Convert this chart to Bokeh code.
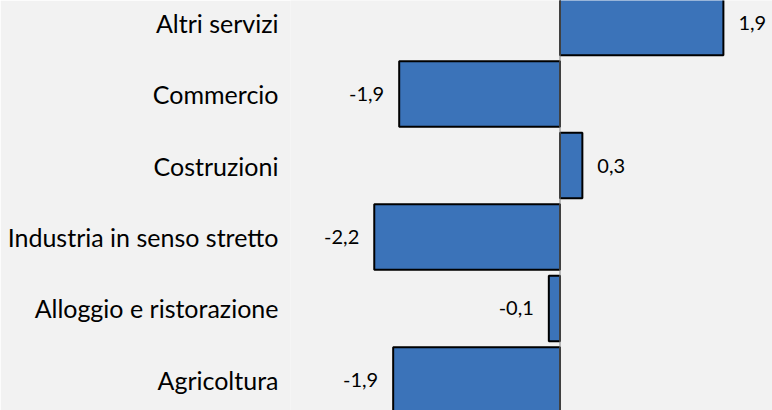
from bokeh.plotting import figure
from bokeh.models import Range1d, FixedTicker, Span, ColumnDataSource
from bokeh.core.properties import value
from bokeh.embed import file_html
from bokeh.resources import INLINE

# Data (top to bottom as shown)
categories = ["Altri servizi", "Commercio", "Costruzioni",
              "Industria in senso stretto", "Alloggio e ristorazione", "Agricoltura"]
values = [1.90, -1.87, 0.26, -2.16, -0.13, -1.94]

n = len(categories)
ys = [n - 1 - i for i in range(n)]
labels = [f"{v:.1f}".replace(".", ",") for v in values]
aligns = ["left" if v >= 0 else "right" for v in values]
offsets = [15 if v >= 0 else -15 for v in values]
centers = [v / 2 for v in values]
widths = [abs(v) for v in values]

BG = "#f2f2f2"
BAR = "#3b73b9"
FONT = "Lato"

p = figure(width=772, height=410, output_backend="svg", toolbar_location=None,
           x_range=Range1d(-3.134, 2.471), y_range=Range1d(-0.427, 5.308),
           x_axis_location=None, min_border_left=290, min_border_right=0,
           min_border_top=0, min_border_bottom=0)
p.background_fill_color = BG
p.border_fill_color = BG
p.outline_line_color = None
p.grid.visible = False

src = ColumnDataSource(dict(y=ys, v=values, c=centers, w=widths,
                            lab=labels, al=aligns, off=offsets))

p.add_layout(Span(location=0, dimension="height", line_color="#808080", line_width=1))

p.rect(x="c", y="y", width="w", height=0.915, source=src,
       fill_color=BAR, line_color="black", line_width=2)

p.text(x="v", y="y", text="lab", x_offset="off", text_align="al",
       text_baseline="middle", source=src, text_font=value(FONT),
       text_font_size="20px", text_color="black")

ax = p.yaxis[0]
ax.ticker = FixedTicker(ticks=ys)
ax.major_label_overrides = {y: c for y, c in zip(ys, categories)}
ax.axis_line_color = None
ax.major_tick_line_color = None
ax.minor_tick_line_color = None
ax.major_tick_in = 0
ax.major_tick_out = 0
ax.major_label_standoff = 12
ax.major_label_text_font = FONT
ax.major_label_text_font_size = "25px"
ax.major_label_text_color = "black"

open("out.html", "w").write(file_html(p, INLINE))
